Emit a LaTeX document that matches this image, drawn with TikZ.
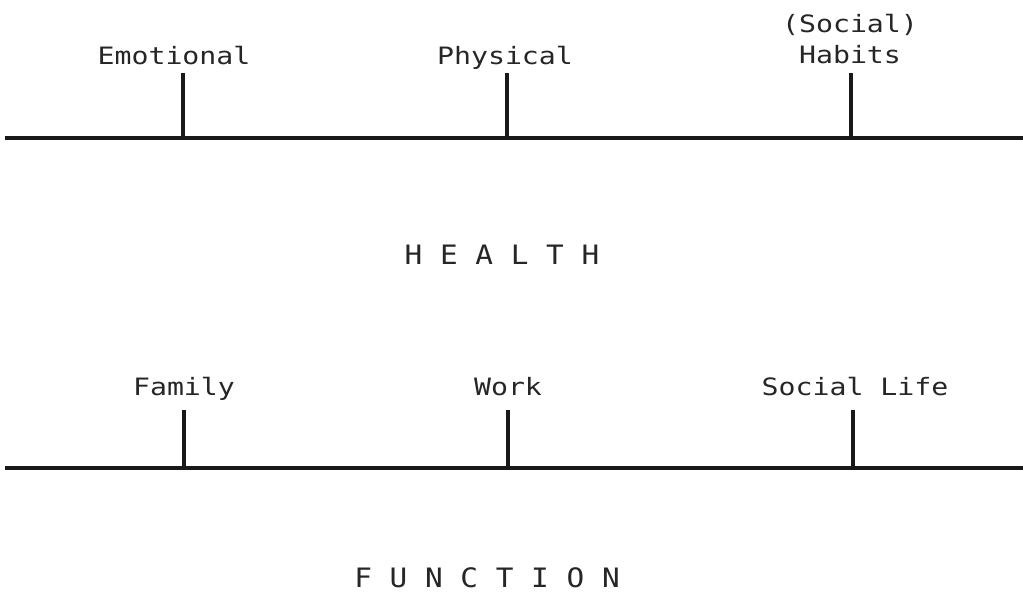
\documentclass[tikz,border=0pt]{standalone}
\usepackage{fontspec}
\setmonofont[FakeStretch=1.18]{DejaVu Sans Mono}
\newfontfamily\bigmono[FakeStretch=1.1]{DejaVu Sans Mono}
\begin{document}
\begin{tikzpicture}[x=0.025cm,y=-0.025cm,
  lbl/.style={font=\ttfamily\fontsize{17}{32}\selectfont,anchor=base,inner sep=0pt,text=black!85},
  big/.style={font=\bigmono\fontsize{19}{22}\selectfont,anchor=base,inner sep=0pt,text=black!85},
  axis/.style={line width=2.2pt,black!90},
  tick/.style={line width=2.6pt,black!90}]
\useasboundingbox (0,0) rectangle (1023,597);
% Health
\coordinate (hl) at (5,138);
\coordinate (hr) at (1023,138);
\draw[axis] (hl) -- (hr);
\coordinate (t1) at (183,73); \coordinate (b1) at (183,138);
\coordinate (t2) at (507,73); \coordinate (b2) at (507,138);
\coordinate (t3) at (851,73); \coordinate (b3) at (851,138);
\draw[tick] (t1) -- (b1);
\draw[tick] (t2) -- (b2);
\draw[tick] (t3) -- (b3);
\node[lbl] (emo) at (174,65) {Emotional};
\node[lbl] (phy) at (505,65) {Physical};
\node[lbl] (soc) at (850,33) {(Social)};
\node[lbl] (hab) at (850,64) {Habits};
\node[big] (health) at (502,264) {H E A L T H};
% Function
\coordinate (fl) at (5,468);
\coordinate (fr) at (1023,468);
\draw[axis] (fl) -- (fr);
\coordinate (u1) at (184,410); \coordinate (d1) at (184,468);
\coordinate (u2) at (508,410); \coordinate (d2) at (508,468);
\coordinate (u3) at (853,410); \coordinate (d3) at (853,468);
\draw[tick] (u1) -- (d1);
\draw[tick] (u2) -- (d2);
\draw[tick] (u3) -- (d3);
\node[lbl] (fam) at (184,395) {Family};
\node[lbl] (work) at (508,395) {Work};
\node[lbl] (soclife) at (855,395) {Social Life};
\node[big] (function) at (487,587) {F U N C T I O N};
\end{tikzpicture}
\end{document}
